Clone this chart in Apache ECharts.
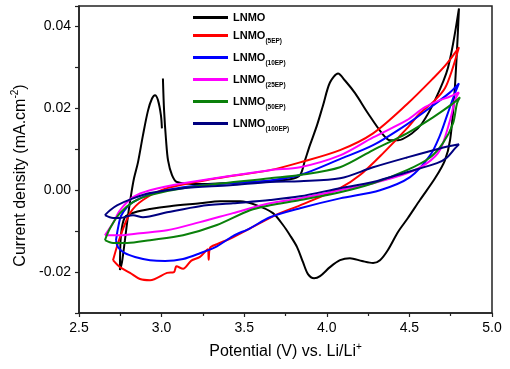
<!DOCTYPE html>
<html>
<head>
<meta charset="utf-8">
<script src="https://cdn.jsdelivr.net/npm/echarts/dist/echarts.min.js"></script>
<style>
html,body{margin:0;padding:0;background:#fff}
#main{width:510px;height:369px}
</style>
</head>
<body>
<div id="main"></div>
<script>
// cyclic voltammograms, [potential V, current density mA.cm-2]
var lnmo = [
    [3.008,0.0273],[3.015,0.0195],[3.027,0.0122],[3.039,0.0073],[3.063,0.0037],[3.093,0.0020],[3.232,0.0015],
    [3.535,0.0020],[3.777,0.0027],[3.838,0.0037],[3.868,0.0073],[3.898,0.0110],[3.941,0.0159],[3.977,0.0207],
    [4.019,0.0263],[4.068,0.0285],[4.110,0.0268],[4.171,0.0237],[4.249,0.0188],[4.334,0.0139],[4.383,0.0122],
    [4.431,0.0122],[4.516,0.0139],[4.576,0.0163],[4.655,0.0220],[4.734,0.0300],[4.800,0.0444],
    [4.788,0.0341],[4.770,0.0220],[4.746,0.0122],[4.715,0.0073],[4.655,0.0029],[4.564,-0.0024],[4.491,-0.0068],
    [4.431,-0.0102],[4.370,-0.0146],[4.322,-0.0171],[4.280,-0.0178],[4.213,-0.0173],[4.140,-0.0166],[4.080,-0.0171],
    [4.019,-0.0188],[3.959,-0.0210],[3.923,-0.0215],[3.886,-0.0205],[3.856,-0.0176],[3.820,-0.0139],[3.777,-0.0110],
    [3.735,-0.0085],[3.674,-0.0056],[3.577,-0.0037],[3.475,-0.0027],[3.354,-0.0027],[3.232,-0.0032],[3.051,-0.0039],
    [2.930,-0.0046],[2.839,-0.0054],[2.778,-0.0066],[2.754,-0.0110],[2.748,-0.0195],
    [2.760,-0.0176],[2.778,-0.0122],[2.797,-0.0061],[2.815,-0.0012],[2.833,0.0029],[2.857,0.0068],[2.887,0.0134],
    [2.918,0.0195],[2.942,0.0224],[2.960,0.0232],[2.978,0.0220],[2.996,0.0183],[3.002,0.0151]
];
var ep5 = [
    [2.706,-0.0171],[2.748,-0.0115],[2.809,-0.0056],[2.887,-0.0024],[3.033,0.0005],[3.335,0.0029],[3.656,0.0049],
    [3.838,0.0068],[4.080,0.0098],[4.280,0.0139],[4.485,0.0210],[4.643,0.0273],[4.728,0.0310],[4.800,0.0349],
    [4.758,0.0293],[4.715,0.0249],[4.655,0.0220],[4.564,0.0188],[4.485,0.0151],[4.340,0.0090],[4.201,0.0037],
    [4.080,0.0005],[3.838,-0.0037],[3.699,-0.0059],[3.432,-0.0115],[3.335,-0.0132],[3.293,-0.0141],[3.285,-0.0170],
    [3.280,-0.0144],[3.232,-0.0163],[3.180,-0.0172],[3.130,-0.0192],[3.090,-0.0186],[3.075,-0.0200],[3.033,-0.0202],
    [2.930,-0.0220],[2.869,-0.0217],[2.809,-0.0202],[2.748,-0.0188],[2.706,-0.0171]
];
var ep10 = [
    [2.724,-0.0122],[2.736,-0.0093],[2.754,-0.0063],[2.791,-0.0041],[2.827,-0.0029],[2.930,-0.0010],[3.130,0.0007],
    [3.414,0.0017],[3.656,0.0024],[3.838,0.0037],[4.080,0.0076],[4.280,0.0110],[4.485,0.0161],[4.643,0.0207],
    [4.746,0.0239],[4.800,0.0261],
    [4.776,0.0237],[4.728,0.0183],[4.685,0.0134],[4.625,0.0085],[4.504,0.0032],[4.322,0.0000],[4.080,-0.0020],
    [3.838,-0.0044],[3.656,-0.0066],[3.535,-0.0093],[3.432,-0.0112],[3.335,-0.0137],[3.232,-0.0154],[3.130,-0.0168],
    [3.021,-0.0173],[2.930,-0.0171],[2.839,-0.0163],[2.778,-0.0154],[2.736,-0.0139],[2.724,-0.0122]
];
var ep25 = [
    [2.657,-0.0110],[2.706,-0.0080],[2.748,-0.0049],[2.827,-0.0017],[2.930,0.0000],[3.130,0.0017],[3.656,0.0049],
    [3.838,0.0056],[4.080,0.0085],[4.280,0.0129],[4.485,0.0171],[4.582,0.0200],[4.667,0.0217],[4.746,0.0229],
    [4.800,0.0239],
    [4.776,0.0220],[4.746,0.0171],[4.685,0.0098],[4.607,0.0066],[4.485,0.0041],[4.280,0.0017],[4.080,0.0000],
    [3.838,-0.0020],[3.656,-0.0032],[3.432,-0.0056],[3.232,-0.0078],[3.033,-0.0098],[2.869,-0.0105],[2.748,-0.0110],
    [2.657,-0.0110]
];
var ep50 = [
    [2.657,-0.0122],[2.688,-0.0093],[2.748,-0.0056],[2.827,-0.0029],[2.930,-0.0012],[3.130,0.0005],[3.656,0.0029],
    [3.838,0.0037],[4.080,0.0056],[4.280,0.0098],[4.485,0.0139],[4.643,0.0178],[4.764,0.0212],[4.806,0.0227],
    [4.788,0.0212],[4.764,0.0163],[4.703,0.0115],[4.625,0.0080],[4.485,0.0049],[4.280,0.0017],[4.080,-0.0005],
    [3.838,-0.0024],[3.656,-0.0037],[3.535,-0.0049],[3.335,-0.0085],[3.130,-0.0110],[2.930,-0.0122],[2.791,-0.0129],
    [2.706,-0.0129],[2.657,-0.0122]
];
var ep100 = [
    [2.657,-0.0061],[2.688,-0.0049],[2.730,-0.0037],[2.827,-0.0020],[2.930,-0.0007],[3.130,0.0005],[3.414,0.0012],
    [3.656,0.0020],[3.838,0.0022],[4.080,0.0029],[4.280,0.0056],[4.485,0.0080],[4.685,0.0102],[4.800,0.0112],
    [4.776,0.0102],[4.728,0.0080],[4.667,0.0066],[4.485,0.0044],[4.280,0.0020],[4.080,0.0005],[3.838,-0.0015],
    [3.656,-0.0024],[3.432,-0.0032],[3.232,-0.0039],[3.033,-0.0054],[2.887,-0.0066],[2.827,-0.0061],[2.748,-0.0068],
    [2.706,-0.0068],[2.657,-0.0061]
];

var names = ['LNMO', 'LNMO(5EP)', 'LNMO(10EP)', 'LNMO(25EP)', 'LNMO(50EP)', 'LNMO(100EP)'];
var colors = ['#000000', '#ff0000', '#0000ff', '#ff00ff', '#0a800a', '#000080'];
var curves = [lnmo, ep5, ep10, ep25, ep50, ep100];

var font = 'Liberation Sans, Arial, sans-serif';
var chart = echarts.init(document.getElementById('main'));

var series = [];
for (var i = 0; i < curves.length; i++) {
    series.push({
        name: names[i],
        type: 'line',
        data: curves[i],
        symbol: 'none',
        smooth: 0.3,
        color: colors[i],
        lineStyle: {width: 2, color: colors[i]}
    });
}

option = {
    backgroundColor: '#fff',
    animation: false,
    grid: {
        left: 79, top: 6, width: 413, height: 307,
        show: true, borderColor: '#222', borderWidth: 1.5, backgroundColor: 'transparent'
    },
    legend: {
        data: names,
        orient: 'vertical',
        left: 193,
        top: 12,
        padding: 0,
        icon: 'rect',
        itemWidth: 35,
        itemHeight: 3,
        itemGap: 3,
        formatter: function (name) {
            var sub = name.slice(4);
            return sub ? '{a|LNMO}{s|' + sub + '}' : '{a|LNMO}';
        },
        textStyle: {
            fontFamily: font,
            fontWeight: 'bold',
            color: '#000',
            rich: {
                a: {fontSize: 11, fontWeight: 'bold', fontFamily: font, lineHeight: 14, color: '#000'},
                s: {fontSize: 6.5, fontWeight: 'bold', fontFamily: font, lineHeight: 8, padding: [12, 0, 0, 0], color: '#000'}
            }
        }
    },
    xAxis: {
        type: 'value',
        min: 2.5,
        max: 5.0,
        interval: 0.5,
        name: '{b|Potential (V) vs. Li/Li}{sup|+}',
        nameLocation: 'middle',
        nameGap: 29,
        nameTextStyle: {
            rich: {
                b: {fontSize: 16, fontFamily: font, color: '#000'},
                sup: {fontSize: 10, fontFamily: font, color: '#000', padding: [0, 0, 9, 0]}
            }
        },
        axisLine: {onZero: false, lineStyle: {color: '#222', width: 1.5}},
        axisTick: {inside: false, length: 4, lineStyle: {color: '#222', width: 1.2}},
        minorTick: {show: true, splitNumber: 2, length: 3, lineStyle: {color: '#222', width: 1.2}},
        splitLine: {show: false},
        axisLabel: {
            fontSize: 14, fontFamily: font, color: '#000', margin: 8,
            formatter: function (v) { return v.toFixed(1); }
        }
    },
    yAxis: {
        type: 'value',
        min: -0.03,
        max: 0.045,
        interval: 0.01,
        name: '{b|Current density (mA.cm}{sup|-2}{b|)}',
        nameLocation: 'middle',
        nameRotate: 90,
        nameGap: 47,
        nameTextStyle: {
            padding: [0, 32, 0, 0],
            rich: {
                b: {fontSize: 16, fontFamily: font, color: '#000'},
                sup: {fontSize: 10, fontFamily: font, color: '#000', padding: [0, 0, 9, 0]}
            }
        },
        axisLine: {onZero: false, lineStyle: {color: '#222', width: 1.5}},
        axisTick: {inside: false, length: 4, lineStyle: {color: '#222', width: 1.2}},
        splitLine: {show: false},
        axisLabel: {
            fontSize: 14, fontFamily: font, color: '#000', margin: 8,
            formatter: function (v) {
                var k = v * 100;
                if (Math.abs(k - Math.round(k)) > 1e-6) return '';
                k = Math.round(k);
                return k % 2 === 0 ? v.toFixed(2) : '';
            }
        }
    },
    series: series
};

chart.setOption(option);
</script>
</body>
</html>
